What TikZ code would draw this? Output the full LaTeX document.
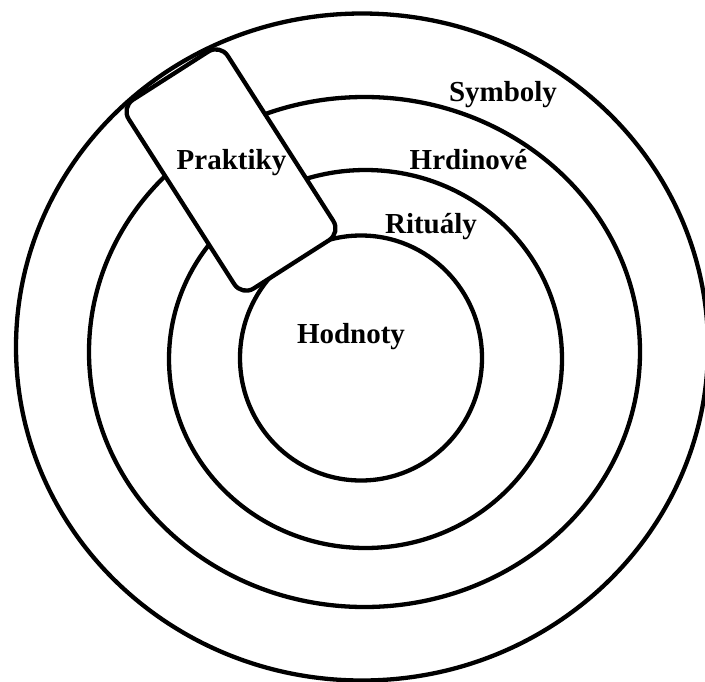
\documentclass[tikz,border=0pt]{standalone}
\usepackage{fontspec}
\setmainfont{Liberation Serif}
\begin{document}
\begin{tikzpicture}[x=1pt,y=-1pt,
  ring/.style={draw=black, line width=4.3pt},
  lbl/.style={anchor=base, inner sep=0pt, font=\bfseries\fontsize{29}{29}\selectfont},
  prakbox/.style={draw=black, fill=white, line width=4.3pt, rounded corners=14pt,
     minimum width=224pt, minimum height=117.5pt, inner sep=0pt, rotate=-57.4}]
  \fill[white] (0,0) rectangle (705,681);
  \useasboundingbox (0,0) rectangle (705,681);
  \clip (0,0) rectangle (705,681);
  % rings
  \draw[ring] (362,347) ellipse [x radius=346pt, y radius=333.5pt];
  \draw[ring] (364.5,352) ellipse [x radius=275.5pt, y radius=255pt];
  \draw[ring] (365.5,359) ellipse [x radius=196.5pt, y radius=189pt];
  \draw[ring] (361,358) ellipse [x radius=121pt, y radius=122.5pt];
  % practices box
  \node[prakbox] (box) at (231,170) {};
  % labels
  \node[lbl] (prak) at (231.5,169) {Praktiky};
  \node[lbl] (sym) at (503,101) {Symboly};
  \node[lbl] (hrd) at (468.5,169) {Hrdinové};
  \node[lbl] (rit) at (431,233) {Rituály};
  \node[lbl] (hod) at (351,343) {Hodnoty};
\end{tikzpicture}
\end{document}
